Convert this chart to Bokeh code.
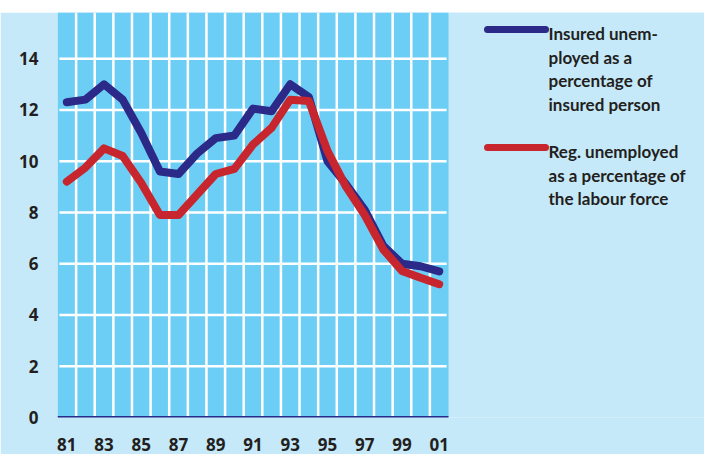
from bokeh.plotting import figure
from bokeh.models import Range1d, FixedTicker, Spacer
from bokeh.layouts import column
from bokeh.core.properties import value
from bokeh.embed import file_html
from bokeh.resources import INLINE

# ---- data ----
years = list(range(81, 102))  # 81 .. 101 (= 2001)
insured = [12.3, 12.4, 13.0, 12.4, 11.1, 9.6, 9.5, 10.3, 10.9, 11.0, 12.05,
           11.95, 13.0, 12.5, 10.0, 9.1, 8.1, 6.7, 6.0, 5.9, 5.7]
registered = [9.2, 9.75, 10.5, 10.2, 9.15, 7.9, 7.9, 8.7, 9.5, 9.7, 10.65,
              11.3, 12.4, 12.35, 10.4, 9.0, 7.9, 6.55, 5.72, 5.45, 5.2]
x_ticks = [81, 83, 85, 87, 89, 91, 93, 95, 97, 99, 101]
x_tick_labels = ["81", "83", "85", "87", "89", "91", "93", "95", "97", "99", "01"]
y_ticks = [0, 2, 4, 6, 8, 10, 12, 14]
legend_insured = ["Insured unem-", "ployed as a", "percentage of", "insured person"]
legend_registered = ["Reg. unemployed", "as a percentage of", "the labour force"]

BLUE = "#2b2a88"
RED = "#c8262f"
OUTER = "#c6e9f9"
INNER = "#6dcef5"
TEXT = "#231f20"

# ---- geometry ----
W, H = 704, 442
LEFT, BOTTOM = 57, 37
frame_w, frame_h = W - LEFT, H - BOTTOM
px_per_year = 391 / len(years)          # chart area is 391 px wide
x_lo = years[0] - 0.5
x_hi = years[-1] + 0.5
x_end = x_lo + frame_w / px_per_year
y_top = 15.8
px_per_unit = frame_h / y_top

p = figure(width=W, height=H, output_backend="svg", toolbar_location=None,
           x_range=Range1d(x_lo, x_end), y_range=Range1d(0, y_top),
           min_border_left=LEFT, min_border_right=0, min_border_top=0,
           min_border_bottom=BOTTOM)
p.background_fill_color = OUTER
p.border_fill_color = OUTER
p.outline_line_color = None
p.grid.visible = False

p.xaxis.ticker = FixedTicker(ticks=x_ticks)
p.xaxis.major_label_overrides = {t: l for t, l in zip(x_ticks, x_tick_labels)}
p.yaxis.ticker = FixedTicker(ticks=y_ticks)
for ax in (p.xaxis, p.yaxis):
    ax.axis_line_color = None
    ax.major_tick_line_color = None
    ax.minor_tick_line_color = None
    ax.major_label_text_font = "Open Sans"
    ax.major_label_text_font_style = "bold"
    ax.major_label_text_font_size = "17px"
    ax.major_label_text_color = TEXT
p.xaxis.major_label_standoff = 14
p.yaxis.major_label_standoff = 13

# chart panel background
p.quad(left=[x_lo], right=[x_hi], bottom=[0], top=[y_top],
       fill_color=INNER, line_color=None)
# vertical white grid lines between years
vx = [y + 0.5 for y in years[:-1]]
p.segment(x0=vx, x1=vx, y0=[0] * len(vx), y1=[y_top] * len(vx),
          line_color="white", line_width=2.5)
# horizontal white grid lines
hy = y_ticks[1:]
p.segment(x0=[x_lo + 0.1] * len(hy), x1=[x_hi - 0.1] * len(hy), y0=hy, y1=hy,
          line_color="white", line_width=2.5)
# baseline
p.segment(x0=[x_lo], x1=[x_hi], y0=[0], y1=[0], line_color=BLUE, line_width=3)

# series
p.line(years, insured, line_color=BLUE, line_width=8, line_cap="round", line_join="round")
p.line(years, registered, line_color=RED, line_width=8, line_cap="round", line_join="round")

# ---- legend (positions given in pixels from the chart panel's right/top) ----
def px_x(dx):   # pixels right of the chart panel's right edge
    return x_hi + dx / px_per_year

def px_y(dy):   # pixels below the top of the frame
    return y_top - dy / px_per_unit

def legend_block(color, lines, dy):
    p.line([px_x(39), px_x(97)], [px_y(dy), px_y(dy)], line_color=color,
           line_width=7, line_cap="round")
    p.text([px_x(100)] * len(lines), [px_y(dy + 4 + i * 23.6) for i in range(len(lines))],
           text=lines, text_font=value("Lato"), text_font_style="bold",
           text_font_size="17px", text_color=TEXT,
           text_baseline="middle", text_align="left")

legend_block(BLUE, legend_insured, 17)
legend_block(RED, legend_registered, 135)

layout = column(Spacer(height=12), p, spacing=0)

open("out.html", "w").write(file_html(layout, INLINE))
